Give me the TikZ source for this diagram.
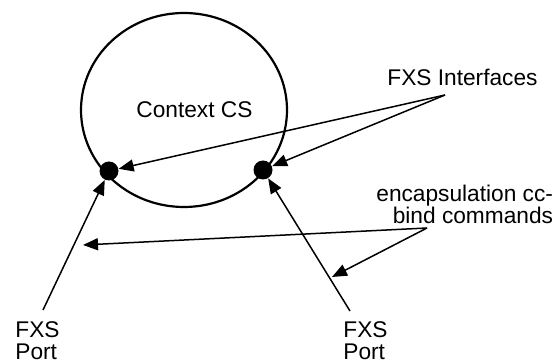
\documentclass[tikz,border=0pt]{standalone}
\usepackage{fontspec}
\setmainfont{Liberation Sans}
\usetikzlibrary{arrows.meta, positioning, shapes.geometric}
\tikzset{
  lbl/.style={inner sep=0pt, font=\fontsize{11.35}{11.4}\selectfont, align=left},
  portlbl/.style={lbl, anchor=base west},
  fxsdot/.style={circle, fill=black, inner sep=0pt, minimum size=9.5pt},
  ctxring/.style={ellipse, draw=black, line width=1.1pt, inner sep=0pt,
                  minimum width=103pt, minimum height=97pt},
  arrow/.style={-{Triangle[length=7.5pt, width=6pt]}, line width=0.75pt},
}

\begin{document}
\begin{tikzpicture}[x=0.5pt, y=-0.5pt]
  \useasboundingbox (0,0) rectangle (552,363);

  % context and its interfaces
  \node[ctxring] (ctx) at (184,110) {};
  \node[lbl, anchor=base west] (ctxlbl) at (136,118) {Context CS};
  \node[fxsdot] (ldot) at (109,171) {};
  \node[fxsdot] (rdot) at (263,170) {};

  % labels
  \node[lbl, anchor=base west] (iflbl) at (387,86) {FXS Interfaces};
  \node[lbl, anchor=base west, align=right] (enclbl) at (376,224) {encapsulation cc-\\bind commands};
  \node[portlbl] (lport) at (15,360) {FXS\\Port};
  \node[portlbl] (rport) at (343,360) {FXS\\Port};

  % free ends of the connectors
  \coordinate (ifapex) at (445,95);
  \coordinate (encapex) at (427,228);
  \coordinate (lfoot) at (43,310);
  \coordinate (rfoot) at (350,311);
  \coordinate (lhit) at (83,245);
  \coordinate (rhit) at (332,277);

  \draw[arrow] (lfoot) -- (ldot);
  \draw[arrow] (rfoot) -- (rdot);
  \draw[arrow] (ifapex) -- (ldot);
  \draw[arrow] (ifapex) -- (rdot);
  \draw[arrow] (encapex) -- (lhit);
  \draw[arrow] (encapex) -- (rhit);
\end{tikzpicture}
\end{document}
